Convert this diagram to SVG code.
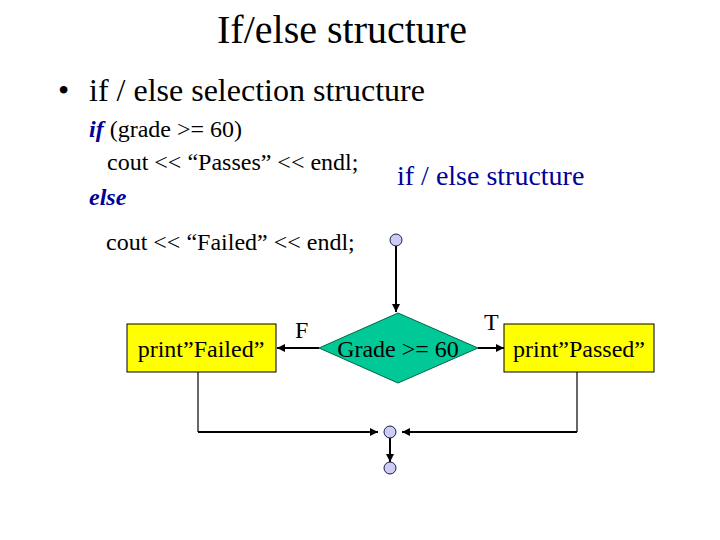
<svg xmlns="http://www.w3.org/2000/svg" width="720" height="540" viewBox="0 0 720 540">
<style>
text,tspan{font-family:"Liberation Serif","Times New Roman",serif;fill:#000}
.code{font-size:24px}
.kw{fill:#000099;font-weight:bold;font-style:italic}
.box{fill:#FFFF00;stroke:#000;stroke-width:1}
.dot{fill:#CCCCF2;stroke:#1a1a4a;stroke-width:1}
.lbl{font-size:24px}
.thick{stroke:#000;stroke-width:2;fill:none}
.thin{stroke:#000;stroke-width:1.2;fill:none}
</style>
<defs>
<marker id="ah" viewBox="0 0 10 10" refX="10" refY="5" markerWidth="4" markerHeight="4" orient="auto" markerUnits="strokeWidth">
<path d="M0,0 L10,5 L0,10 z" fill="#000"/>
</marker>
</defs>
<rect width="720" height="540" fill="#fff"/>
<text x="342" y="43" font-family="Liberation Serif, serif" font-size="40" text-anchor="middle">If/else structure</text>
<text x="58" y="101" font-family="Liberation Serif, serif" font-size="32">•</text>
<text x="89" y="101" font-family="Liberation Serif, serif" font-size="32">if / else selection structure</text>
<text x="89" y="137" font-family="Liberation Serif, serif" class="code"><tspan class="kw">if</tspan> (grade &gt;= 60)</text>
<text x="107" y="170" font-family="Liberation Serif, serif" class="code">cout &lt;&lt; “Passes” &lt;&lt; endl;</text>
<text x="89" y="205" font-family="Liberation Serif, serif" class="code kw">else</text>
<text x="106" y="250" font-family="Liberation Serif, serif" class="code">cout &lt;&lt; “Failed” &lt;&lt; endl;</text>
<text x="397" y="185" font-family="Liberation Serif, serif" font-size="28" style="fill:#000099">if / else structure</text>
<g id="connectors">
<line class="thick" x1="396" y1="246" x2="396" y2="312" marker-end="url(#ah)"/>
<line class="thick" x1="319" y1="348" x2="277" y2="348" marker-end="url(#ah)"/>
<line class="thick" x1="478" y1="348" x2="504" y2="348" marker-end="url(#ah)"/>
<polyline class="thin" points="198,372 198,432"/>
<line class="thick" x1="198" y1="432" x2="378" y2="432" marker-end="url(#ah)"/>
<polyline class="thin" points="577,372 577,432"/>
<line class="thick" x1="577" y1="432" x2="402" y2="432" marker-end="url(#ah)"/>
<line class="thick" x1="390" y1="438" x2="390" y2="462" marker-end="url(#ah)"/>
</g>
<g id="start"><circle class="dot" cx="396" cy="240" r="6"/></g>
<g id="decision">
<polygon points="398,313 478,348 398,383 319,348" fill="#00C896" stroke="#006644" stroke-width="1"/>
<text x="398" y="357" font-family="Liberation Serif, serif" class="lbl" text-anchor="middle">Grade &gt;= 60</text>
</g>
<g id="failed">
<rect class="box" x="127" y="324" width="149" height="48"/>
<text x="201" y="357" font-family="Liberation Serif, serif" class="lbl" text-anchor="middle">print”Failed”</text>
</g>
<g id="passed">
<rect class="box" x="504" y="324" width="150" height="48"/>
<text x="579" y="357" font-family="Liberation Serif, serif" class="lbl" text-anchor="middle">print”Passed”</text>
</g>
<text x="295" y="338" font-family="Liberation Serif, serif" class="lbl">F</text>
<text x="484" y="330" font-family="Liberation Serif, serif" class="lbl">T</text>
<g id="merge"><circle class="dot" cx="390" cy="432" r="6"/></g>
<g id="end"><circle class="dot" cx="390" cy="468" r="6"/></g>
</svg>
